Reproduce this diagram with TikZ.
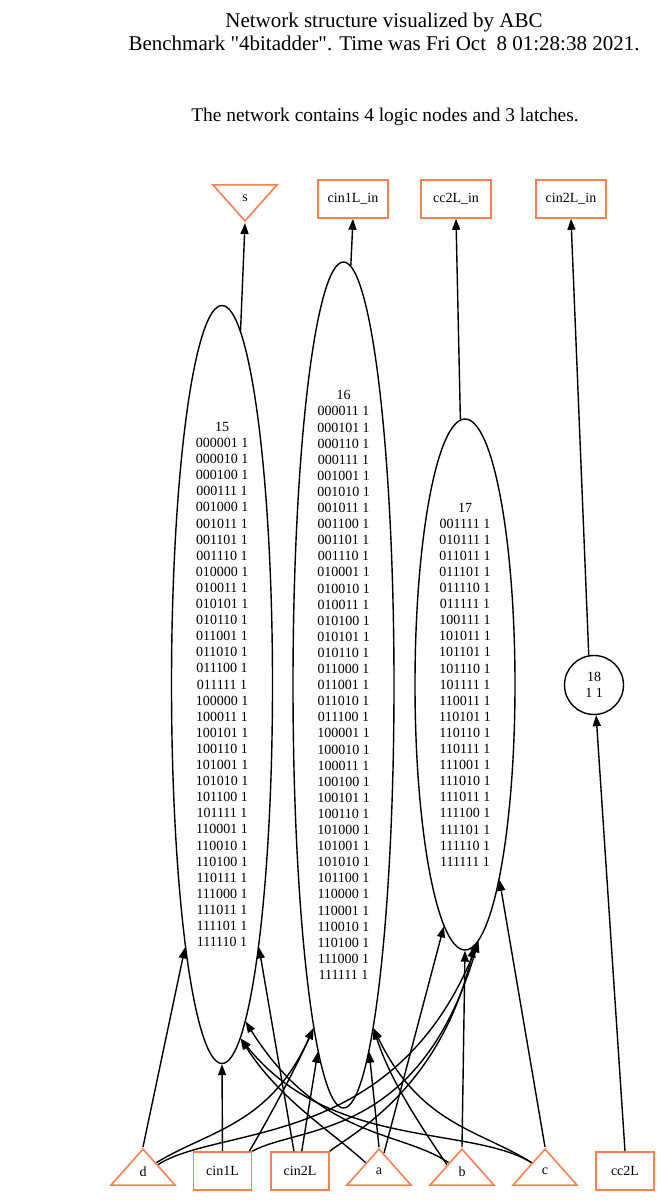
\documentclass[tikz,border=0pt]{standalone}
\usepackage{fontspec}
\setmainfont{Liberation Serif}
\usetikzlibrary{shapes.geometric,arrows.meta,calc}
\definecolor{coral}{RGB}{255,127,80}
\newcommand\dquote{\XeTeXglyph\XeTeXcharglyph"22\relax}

\begin{document}
\begin{tikzpicture}[x=1pt, y=-1pt,
	font=\fontsize{14}{16.1}\selectfont,
	pin/.style={isosceles triangle, shape border rotate=90, isosceles triangle stretches, anchor=apex, draw=coral, line width=1.6pt, minimum width=64pt, minimum height=36pt, inner sep=0pt},
	pout/.style={pin, shape border rotate=-90},
	latch/.style={rectangle, draw=coral, line width=1.6pt, minimum width=58pt, minimum height=38pt, inner sep=0pt},
	latchin/.style={latch, minimum width=70pt},
	logic/.style={ellipse, draw, line width=1.4pt, minimum width=101pt, inner sep=0pt, align=center},
	wire/.style={line width=1.4pt, -{Triangle[length=11pt,width=8pt]}}]
	\useasboundingbox (0,0) rectangle (660,1200);

	\node[font=\fontsize{21}{23.5}\selectfont, align=center] (title) at (384,32) {Network structure visualized by ABC\\Benchmark \dquote4bitadder\dquote. Time was Fri Oct\ \ 8 01:28:38 2021.};
	\node[font=\fontsize{19.4}{23}\selectfont] (count) at (385,117) {The network contains 4 logic nodes and 3 latches.};

	% outputs and latch inputs
	\node[pout] (s) at (245,223) {s};
	\node[latchin] (cin1Lin) at (353,199) {cin1L\_in};
	\node[latchin] (cc2Lin) at (456,199) {cc2L\_in};
	\node[latchin] (cin2Lin) at (571,199) {cin2L\_in};

	% logic nodes
	\node[logic, minimum height=758pt] (n15) at (222,684.5) {15\\000001 1\\000010 1\\000100 1\\000111 1\\001000 1\\001011 1\\001101 1\\001110 1\\010000 1\\010011 1\\010101 1\\010110 1\\011001 1\\011010 1\\011100 1\\011111 1\\100000 1\\100011 1\\100101 1\\100110 1\\101001 1\\101010 1\\101100 1\\101111 1\\110001 1\\110010 1\\110100 1\\110111 1\\111000 1\\111011 1\\111101 1\\111110 1};
	\node[logic, minimum height=846pt] (n16) at (343.5,685) {16\\000011 1\\000101 1\\000110 1\\000111 1\\001001 1\\001010 1\\001011 1\\001100 1\\001101 1\\001110 1\\010001 1\\010010 1\\010011 1\\010100 1\\010101 1\\010110 1\\011000 1\\011001 1\\011010 1\\011100 1\\100001 1\\100010 1\\100011 1\\100100 1\\100101 1\\100110 1\\101000 1\\101001 1\\101010 1\\101100 1\\110000 1\\110001 1\\110010 1\\110100 1\\111000 1\\111111 1};
	\node[logic, minimum width=100pt, minimum height=531pt] (n17) at (465,684.5) {17\\001111 1\\010111 1\\011011 1\\011101 1\\011110 1\\011111 1\\100111 1\\101011 1\\101101 1\\101110 1\\101111 1\\110011 1\\110101 1\\110110 1\\110111 1\\111001 1\\111010 1\\111011 1\\111100 1\\111101 1\\111110 1\\111111 1};
	\node[circle, draw, line width=1.4pt, minimum size=59pt, inner sep=0pt, align=center] (n18) at (594,685) {18\\1 1};

	% inputs and latch outputs
	\node[pin] (d) at (143,1147) {d};
	\node[latch] (cin1L) at (222.5,1171) {cin1L};
	\node[latch] (cin2L) at (300,1171) {cin2L};
	\node[pin] (a) at (379,1147) {a};
	\node[pin] (b) at (462,1147) {b};
	\node[pin] (c) at (545,1147) {c};
	\node[latch] (cc2L) at (625,1171) {cc2L};

	\draw[wire] (n15.87) -- (s.apex);
	\draw[wire] (n16.89) -- (cin1Lin.south);
	\draw[wire] (n17.91.5) -- (cc2Lin.south);
	\draw[wire] (n18.100) -- (cin2Lin.south);
	\draw[wire] (cc2L.north) -- (n18.-86);

	% fanins of 15
	\draw[wire] (d.apex) -- (n15.-98.8);
	\draw[wire] (cin1L.north) -- (n15.south);
	\draw[wire] (cin2L.107) -- (n15.-82.5);
	\draw[wire] ($(a.apex)!0.4!(a.left corner)$) .. controls (330,1130) and (280,1100) .. (n15.-87);
	\draw[wire] ($(b.apex)!0.4!(b.left corner)$) .. controls (400,1130) and (320,1140) .. (n15.-86);
	\draw[wire] ($(c.apex)!0.4!(c.left corner)$) .. controls (470,1125) and (330,1150) .. (n15.-87.5);

	% fanins of 16
	\draw[wire] ($(d.apex)!0.4!(d.right corner)$) .. controls (210,1130) and (270,1125) .. (n16.-95.2);
	\draw[wire] ([xshift=-3pt]cin1L.north east) .. controls (265,1125) and (295,1070) .. (n16.-95.6);
	\draw[wire] (cin2L.85) -- (n16.-94);
	\draw[wire] (a.apex) -- (n16.-86);
	\draw[wire] ($(b.apex)!0.45!(b.left corner)$) .. controls (420,1125) and (390,1080) .. (n16.-85);
	\draw[wire] ($(c.apex)!0.4!(c.left corner)$) .. controls (480,1130) and (420,1125) .. (n16.-85.4);

	% fanins of 17
	\draw[wire] ($(d.apex)!0.45!(d.right corner)$) .. controls (220,1125) and (395,1150) .. (n17.-87.4);
	\draw[wire] (cin1L.north east) .. controls (300,1125) and (420,1140) .. (n17.-87.8);
	\draw[wire] (cin2L.north east) .. controls (350,1135) and (440,1090) .. (n17.-88.2);
	\draw[wire] ($(a.apex)!0.15!(a.right corner)$) -- (n17.-95.9);
	\draw[wire] (b.apex) -- (n17.south);
	\draw[wire] (c.apex) -- (n17.-80.7);
\end{tikzpicture}
\end{document}
